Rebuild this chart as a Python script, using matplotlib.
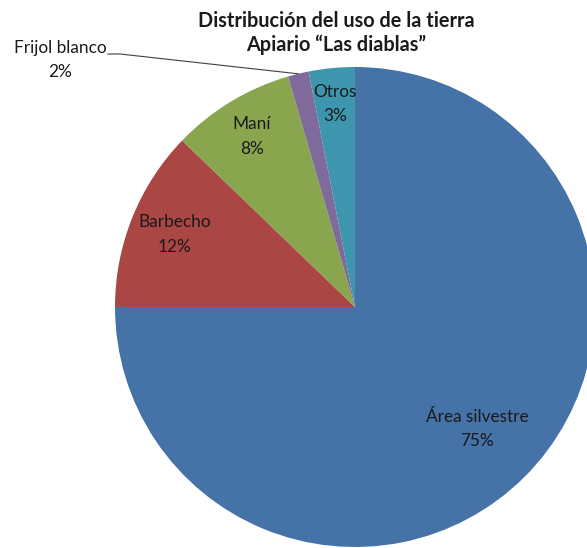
import numpy as np
import matplotlib.pyplot as plt

# datos (porcentaje del area)
categorias = ['Área silvestre', 'Barbecho', 'Maní', 'Frijol blanco', 'Otros']
valores = [75.0, 12.2, 8.3, 1.4, 3.1]
etiquetas_pct = ['75%', '12%', '8%', '2%', '3%']
colores = ['#4572A7', '#AA4643', '#89A54E', '#80699B', '#3D96AE']

plt.rcParams['font.family'] = ['Lato', 'DejaVu Sans']

W, H = 587, 548
fig = plt.figure(figsize=(W / 100, H / 100), dpi=100)

# centro del pastel (355, 307) px, radio 240 px
cx, cy, r = 355, 307, 240
ax = fig.add_axes([(cx - r) / W, (H - cy - r) / H, 2 * r / W, 2 * r / H])
wedges, _ = ax.pie(valores, colors=colores, startangle=90, counterclock=False,
                   radius=1, wedgeprops=dict(linewidth=0))
ax.set_xlim(-1, 1)
ax.set_ylim(-1, 1)
ax.set_aspect('equal')
ax.axis('off')
for w in wedges:
    w.set_clip_on(False)

# etiquetas dentro de las porciones
dist = [0.72, 0.81, 0.83, None, 0.85]
for w, nombre, pct, d in zip(wedges, categorias, etiquetas_pct, dist):
    if d is None:
        continue
    ang = np.deg2rad((w.theta1 + w.theta2) / 2)
    ax.text(d * np.cos(ang), d * np.sin(ang), nombre + '\n' + pct,
            ha='center', va='center', fontsize=12.4, color='#1a1a1a',
            linespacing=1.65)

# Frijol blanco: etiqueta afuera con linea guia
w = wedges[3]
ang = np.deg2rad((w.theta1 + w.theta2) / 2)
px, py = np.cos(ang), np.sin(ang)
xs = [(108 - cx) / r, (120 - cx) / r, px]
ys = [(cy - 54) / r, (cy - 54) / r, py]
ax.plot(xs, ys, color='#404040', linewidth=0.8, clip_on=False)
fig.text(60 / W, 1 - 60 / H, 'Frijol blanco\n2%', ha='center', va='center',
         fontsize=12.4, color='#1a1a1a', linespacing=1.65)

# titulo
fig.text(336 / W, 1 - 33 / H, 'Distribución del uso de la tierra\nApiario “Las diablas”',
         ha='center', va='center', fontsize=14.3, fontweight='bold',
         color='#1a1a1a', linespacing=1.2)

fig.savefig('out.png', dpi=100)
